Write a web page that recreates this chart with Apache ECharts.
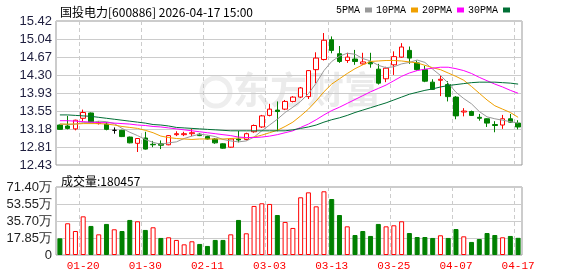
<!DOCTYPE html>
<html><head><meta charset="utf-8">
<script src="https://cdn.jsdelivr.net/npm/echarts@6/dist/echarts.min.js"></script>
<style>html,body{margin:0;padding:0;background:#fff}#c{width:578px;height:276px}</style>
</head><body><div id="c"></div>
<script>
const titleText = '国投电力[600886] 2026-04-17 15:00';
const volText = '成交量:180457';
const dates = ['01-15','01-16','01-19','01-20','01-21','01-22','01-23','01-26','01-27','01-28',
  '01-29','01-30','02-02','02-03','02-04','02-05','02-06','02-09','02-10','02-11',
  '02-12','02-13','02-24','02-25','02-26','02-27','03-02','03-03','03-04','03-05',
  '03-06','03-09','03-10','03-11','03-12','03-13','03-16','03-17','03-18','03-19',
  '03-20','03-23','03-24','03-25','03-26','03-27','03-30','03-31','04-01','04-02',
  '04-03','04-07','04-08','04-09','04-10','04-13','04-14','04-15','04-16','04-17'];
const opens = [13.26,13.24,13.18,13.40,13.51,13.29,13.28,13.15,13.15,13.01,
  12.88,12.99,12.86,12.87,12.85,13.06,13.06,13.08,13.07,13.02,
  12.97,12.87,12.80,12.97,12.96,13.12,13.22,13.46,13.57,13.59,
  13.75,13.84,13.85,14.41,14.62,15.03,14.74,14.60,14.63,14.53,
  14.57,14.42,14.22,14.51,14.67,14.81,14.55,14.41,14.15,14.19,
  14.10,13.84,13.53,13.54,13.42,13.39,13.27,13.26,13.39,13.30];
const closes = [13.17,13.19,13.36,13.52,13.31,13.31,13.17,13.15,13.02,12.89,
  12.98,12.76,12.85,12.84,13.04,13.08,13.08,13.10,13.04,12.97,
  12.89,12.78,12.97,12.95,13.08,13.25,13.45,13.59,13.54,13.75,
  13.84,14.03,14.39,14.65,15.02,14.81,14.58,14.67,14.58,14.57,
  14.53,14.13,14.44,14.68,14.88,14.65,14.41,14.17,14.00,14.21,
  13.85,13.45,13.55,13.46,13.40,13.30,13.25,13.39,13.32,13.22];
const lows = [13.16,13.17,13.15,13.34,13.30,13.27,13.15,13.08,13.01,12.88,
  12.70,12.75,12.80,12.76,12.84,13.03,13.03,13.03,13.03,12.96,
  12.87,12.77,12.79,12.90,12.94,13.10,13.20,13.44,13.13,13.57,
  13.73,13.82,13.80,14.13,14.60,14.75,14.55,14.55,14.51,14.51,
  14.45,14.10,14.15,14.30,14.66,14.53,14.39,14.15,13.99,13.86,
  13.75,13.38,13.44,13.45,13.35,13.22,13.11,13.18,13.31,13.17];
const highs = [13.27,13.45,13.37,13.58,13.52,13.34,13.32,13.21,13.16,13.02,
  12.99,13.12,12.93,12.94,13.05,13.13,13.12,13.18,13.09,13.04,
  12.99,12.88,12.98,13.14,13.10,13.27,13.47,13.70,13.75,13.78,
  13.86,14.05,14.40,14.77,15.17,15.10,14.90,14.76,14.82,14.76,
  14.76,14.53,14.47,14.79,14.96,14.89,14.60,14.49,14.21,14.29,
  14.17,13.86,13.61,13.56,13.49,13.40,13.34,13.47,13.49,13.36];
const volumes = [175000,333000,252000,406000,305000,217000,326000,270000,252000,368000,
  354000,263000,291000,179000,186000,158000,112000,144000,116000,95000,
  158000,158000,217000,368000,228000,515000,543000,536000,420000,347000,
  284000,606000,658000,511000,669000,588000,420000,301000,210000,252000,
  200000,326000,301000,312000,354000,231000,189000,189000,179000,207000,
  179000,273000,196000,137000,168000,231000,210000,186000,200000,180457];
const volUp = [0,1,1,1,0,1,0,1,0,0, 1,0,1,0,1,1,1,1,0,0, 0,0,1,0,1,1,1,1,0,1,
  1,1,1,1,1,0,0,1,0,0, 0,0,1,1,1,0,0,0,0,1, 0,0,1,0,0,0,0,1,0,0];
const ma5 = [13.28,13.27,13.28,13.31,13.31,13.34,13.33,13.29,13.19,13.11,
  13.04,12.96,12.90,12.86,12.89,12.91,12.98,13.03,13.07,13.05,
  13.02,12.96,12.93,12.91,12.93,13.01,13.14,13.26,13.38,13.52,
  13.63,13.75,13.91,14.13,14.39,14.58,14.69,14.75,14.73,14.64,
  14.59,14.50,14.45,14.47,14.53,14.56,14.61,14.56,14.42,14.29,
  14.13,13.94,13.81,13.70,13.54,13.43,13.39,13.36,13.33,13.30];
const ma10 = [13.28,13.28,13.28,13.29,13.29,13.29,13.28,13.26,13.23,13.21,
  13.19,13.15,13.10,13.03,13.00,12.98,12.97,12.96,12.97,12.97,
  12.97,12.97,12.98,12.99,12.99,13.01,13.05,13.10,13.15,13.23,
  13.32,13.45,13.59,13.76,13.95,14.11,14.22,14.33,14.43,14.51,
  14.58,14.59,14.60,14.60,14.59,14.57,14.55,14.50,14.45,14.41,
  14.34,14.27,14.19,14.06,13.92,13.78,13.66,13.59,13.52,13.42];
const ma20 = [13.35,13.35,13.34,13.33,13.32,13.31,13.31,13.30,13.29,13.28,
  13.26,13.25,13.23,13.22,13.20,13.18,13.16,13.14,13.12,13.10,
  13.08,13.06,13.04,13.01,13.00,13.00,13.01,13.03,13.06,13.10,
  13.14,13.21,13.28,13.37,13.47,13.56,13.63,13.71,13.79,13.87,
  13.95,14.02,14.09,14.18,14.27,14.34,14.39,14.42,14.44,14.46,
  14.46,14.43,14.39,14.33,14.25,14.18,14.11,14.05,13.98,13.92];
const ma30 = [13.47,13.47,13.46,13.45,13.44,13.42,13.40,13.38,13.36,13.34,
  13.32,13.30,13.27,13.26,13.24,13.21,13.20,13.19,13.18,13.17,
  13.16,13.15,13.14,13.14,13.14,13.14,13.14,13.14,13.14,13.14,
  13.16,13.19,13.22,13.26,13.32,13.37,13.41,13.46,13.52,13.57,
  13.62,13.67,13.72,13.78,13.84,13.90,13.94,13.98,14.01,14.05,
  14.08,14.10,14.12,14.14,14.15,14.15,14.15,14.14,14.13,14.11];
const priceTicks = ['12.43','12.81','13.18','13.55','13.93','14.30','14.67','15.04','15.42'];
const volTicks = ['0','17.85万','35.70万','53.55万','71.40万'];
const maNames = ['5PMA','10PMA','20PMA','30PMA'];

const pMin = +priceTicks[0], pMax = +priceTicks[priceTicks.length-1];
const pStep = (pMax - pMin) / (priceTicks.length - 1);
const pVals = priceTicks.map((t,i)=> pMin + i*pStep);
const vMax = 714000, vStep = vMax/(volTicks.length-1);

const showIdx = (i) => (i - 3) % 8 === 0;
const kData = dates.map((d,i)=>{
  const item = {value:[opens[i], closes[i], lows[i], highs[i]]};
  if (opens[i] === closes[i]) item.itemStyle = {color:'#000', color0:'#000', borderColor:'#000', borderColor0:'#000'};
  return item;
});
const vData = volumes.map((v,i)=> volUp[i]
  ? {value:v, itemStyle:{color:'#fff', borderColor:'#ff0000', borderWidth:1}}
  : {value:v, itemStyle:{color:'#008000', borderColor:'#008000', borderWidth:1}});
const maColors = ['#999999','#f0a000','#ff00ff','#006f35'];
const maData = [ma5, ma10, ma20, ma30];

const chart = echarts.init(document.getElementById('c'), null, {renderer:'canvas'});
chart.setOption({
  animation:false,
  backgroundColor:'#fff',
  title:[
    {text:titleText, left:55, top:1, textStyle:{fontSize:12, fontWeight:'normal', color:'#000', fontFamily:'Noto Sans CJK SC'}},
    {text:volText, left:56, top:170, textStyle:{fontSize:12, fontWeight:'normal', color:'#000', fontFamily:'Noto Sans CJK SC'}}
  ],
  legend:{data:maNames, left:336, top:3, align:'right', icon:'rect', itemWidth:7, itemHeight:5, itemGap:4, padding:[2,0,2,0],
    textStyle:{fontSize:10, color:'#000', fontFamily:'Liberation Mono'}},
  graphic:[
    {type:'circle', shape:{cx:216, cy:92, r:14}, style:{fill:'none', stroke:'#eeeeee', lineWidth:5}, z:0, silent:true},
    {type:'text', left:233, top:71, z:0, silent:true, style:{text:'东方财富', fill:'#ebebeb', font:'bold 37px "Noto Sans CJK SC"'}}
  ],
  grid:[
    {left:56, right:56, top:21, height:144, show:true, borderColor:'#999', borderWidth:1, backgroundColor:'transparent'},
    {left:56, right:56, top:187, height:68, show:true, borderColor:'#999', borderWidth:1, backgroundColor:'transparent'}
  ],
  xAxis:[
    {type:'category', gridIndex:0, data:dates, boundaryGap:true, axisLine:{show:false}, axisTick:{show:false, interval:showIdx},
      axisLabel:{show:false, interval:showIdx}, splitLine:{show:true, interval:showIdx, lineStyle:{color:'#cccccc', type:[4,3], width:1}}},
    {type:'category', gridIndex:1, data:dates, boundaryGap:true, axisLine:{show:false}, axisTick:{show:false, interval:showIdx},
      axisLabel:{interval:showIdx, color:'#ff0000', fontSize:11, fontFamily:'Liberation Mono', margin:6},
      splitLine:{show:true, interval:showIdx, lineStyle:{color:'#cccccc', type:[4,3], width:1}}}
  ],
  yAxis:[
    {type:'value', gridIndex:0, min:pMin, max:pMax, scale:true,
      axisLine:{show:false}, axisTick:{show:false, customValues:pVals},
      axisLabel:{customValues:pVals, margin:4, fontSize:13, color:'#1e1e3e', fontFamily:'Liberation Sans',
        formatter:(v)=> priceTicks[Math.round((v - pMin)/pStep)]},
      splitLine:{show:true, lineStyle:{color:'#cccccc', width:1}}},
    {type:'value', gridIndex:1, min:0, max:vMax, interval:vStep,
      axisLine:{show:false}, axisTick:{show:false},
      axisLabel:{margin:4, fontSize:13, color:'#1e1e1e', fontFamily:'Liberation Sans',
        formatter:(v)=> volTicks[Math.round(v/vStep)]},
      splitLine:{show:true, lineStyle:{color:'#cccccc', width:1}}}
  ],
  series:[
    {type:'candlestick', xAxisIndex:0, yAxisIndex:0, data:kData, barWidth:5, z:3,
      itemStyle:{color:'#fff', color0:'#008000', borderColor:'#ff0000', borderColor0:'#008000', borderWidth:1}},
    ...maNames.map((n,k)=>({name:n, type:'line', xAxisIndex:0, yAxisIndex:0, data:maData[k], symbol:'none', z:4,
      lineStyle:{width:1, color:maColors[k]}, itemStyle:{color:maColors[k]}})),
    {type:'bar', xAxisIndex:1, yAxisIndex:1, data:vData, barWidth:5, z:3}
  ]
});
</script></body></html>
